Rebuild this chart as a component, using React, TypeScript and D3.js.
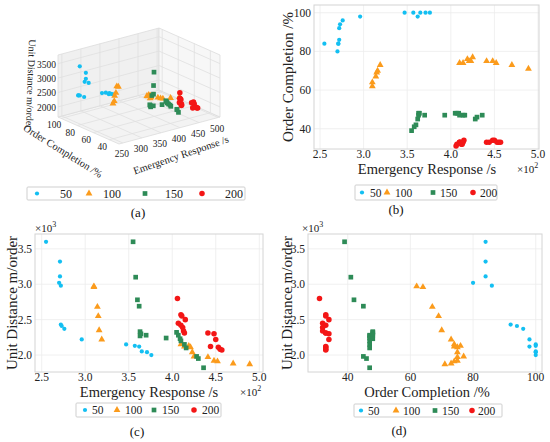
import React from 'react';
import * as d3 from 'd3';

// groups (number of vehicles / orders)
const groupNames = ['50', '100', '150', '200'];
const groupColors = ['#13bff2', '#fb9b1c', '#2e8b57', '#f31616'];

// Emergency Response (s), Order Completion (%), Unit Distance (m/order)
const resp50 = [255, 271, 271, 270, 272, 272, 273, 276, 296, 347, 357, 362, 365, 371, 376];
const comp50 = [84, 84, 84, 80, 86, 92, 94, 96, 98, 100, 100, 98, 100, 100, 100];
const dist50 = [3600, 3320, 3110, 3020, 2980, 2430, 2410, 2370, 2220, 2150, 2130, 2120, 2050, 2040, 2000];

const resp100 = [310, 310, 314, 315, 316, 319, 410, 414, 419, 421, 423, 425, 441, 448, 452, 470, 489];
const comp100 = [62, 64, 67, 69, 70, 73, 74, 74, 76, 75, 75, 77, 75, 75, 74, 73, 71];
const dist100 = [2970, 2960, 2680, 2550, 2350, 2220, 2150, 2120, 2130, 2110, 2040, 1980, 1970, 1920, 1910, 1880, 1870];

const resp150 = [355, 358, 360, 362, 363, 363, 364, 370, 393, 405, 407, 409, 410, 414, 416, 428, 430, 436];
const comp150 = [39, 41, 42, 45, 47, 48, 48, 47, 47, 48, 48, 48, 47, 47, 47, 45, 46, 47];
const dist150 = [3600, 3100, 2780, 2690, 2270, 2330, 2300, 2280, 2240, 2320, 2280, 2230, 2200, 2150, 2100, 1980, 1950, 1820];

const resp200 = [406, 410, 411, 415, 407, 410, 412, 413, 414, 441, 444, 448, 450, 453, 455, 457];
const comp200 = [31, 33, 33, 34, 32, 33, 32, 32, 33, 33, 33, 34, 34, 33, 33, 33];
const dist200 = [2800, 2570, 2550, 2500, 2450, 2420, 2390, 2340, 2310, 2310, 2120, 2300, 2220, 2110, 2080, 2070];

const respTicks = [2.5, 3.0, 3.5, 4.0, 4.5, 5.0];
const compTicks = [40, 60, 80, 100];
const distTicks = [2.0, 2.5, 3.0, 3.5];
const resp3dTicks = [250, 300, 350, 400, 450, 500];
const comp3dTicks = [40, 60, 80, 100];
const dist3dTicks = [2000, 2500, 3000, 3500];

const allResp = [resp50, resp100, resp150, resp200];
const allComp = [comp50, comp100, comp150, comp200];
const allDist = [dist50, dist100, dist150, dist200];

const series = groupNames.map((name, i) => ({
  name,
  color: groupColors[i],
  idx: i,
  pts: allResp[i].map((r, j) => ({ resp: r, comp: allComp[i][j], dist: allDist[i][j] })),
}));

const FONT = "'Liberation Serif', 'DejaVu Serif', serif";
const symbolTypes = [d3.symbolCircle, d3.symbolTriangle, d3.symbolSquare, d3.symbolCircle];
const symbolSizes = [14, 20, 22, 24];
const markerPath = (i: number, scale = 1) =>
  d3.symbol().type(symbolTypes[i]).size(symbolSizes[i] * scale)() as string;

const Exp = ({ x, y, p }: { x: number; y: number; p: string }) => (
  <text x={x} y={y} fontSize={11} fill="#222">
    ×10<tspan dy={-5} fontSize={8}>{p}</tspan>
  </text>
);

type Box = { l: number; t: number; r: number; b: number };

function Scatter2D(props: {
  box: Box;
  xDomain: number[];
  yDomain: number[];
  xTicks: number[];
  yTicks: number[];
  fmtX: (v: number) => string;
  fmtY: (v: number) => string;
  getX: (p: any) => number;
  getY: (p: any) => number;
  xLabel: string;
  yLabel: string;
  xLabelPos: number[];
  yLabelPos: number[];
}) {
  const { box, xDomain, yDomain, xTicks, yTicks, fmtX, fmtY, getX, getY } = props;
  const x = d3.scaleLinear().domain(xDomain).range([box.l, box.r]);
  const y = d3.scaleLinear().domain(yDomain).range([box.b, box.t]);
  return (
    <g>
      <rect x={box.l} y={box.t} width={box.r - box.l} height={box.b - box.t} fill="#fff" />
      {xTicks.map(t => (
        <line key={'gx' + t} x1={x(t)} x2={x(t)} y1={box.t} y2={box.b} stroke="#ececec" strokeWidth={0.8} />
      ))}
      {yTicks.map(t => (
        <line key={'gy' + t} x1={box.l} x2={box.r} y1={y(t)} y2={y(t)} stroke="#ececec" strokeWidth={0.8} />
      ))}
      <rect x={box.l} y={box.t} width={box.r - box.l} height={box.b - box.t} fill="none" stroke="#d4d4d4" strokeWidth={1} />
      {xTicks.map(t => (
        <text key={'tx' + t} x={x(t)} y={box.b + 9} fontSize={11.5} textAnchor="middle" fill="#222">{fmtX(t)}</text>
      ))}
      {yTicks.map(t => (
        <text key={'ty' + t} x={box.l - 3} y={y(t)} dy="0.35em" fontSize={11.5} textAnchor="end" fill="#222">{fmtY(t)}</text>
      ))}
      {series.map(s => (
        <g key={s.name} fill={s.color}>
          {s.pts.map((p, j) => (
            <path key={j} d={markerPath(s.idx)} transform={`translate(${x(getX(p))},${y(getY(p))})`} />
          ))}
        </g>
      ))}
      <text x={props.xLabelPos[0]} y={props.xLabelPos[1]} fontSize={14.5} textAnchor="middle" fill="#222">{props.xLabel}</text>
      <text
        transform={`translate(${props.yLabelPos[0]},${props.yLabelPos[1]}) rotate(-90)`}
        fontSize={15}
        textAnchor="middle"
        dominantBaseline="central"
        fill="#222"
      >
        {props.yLabel}
      </text>
    </g>
  );
}

function Legend({ x, y, w, h, markerXs, textXs, fontSize }: {
  x: number; y: number; w: number; h: number; markerXs: number[]; textXs: number[]; fontSize: number;
}) {
  const cy = y + h / 2;
  return (
    <g>
      <rect x={x} y={y} width={w} height={h} fill="#fff" stroke="#cfcfcf" strokeWidth={1} rx={1} />
      {series.map((s, i) => (
        <g key={s.name}>
          <path d={markerPath(i)} fill={s.color} transform={`translate(${markerXs[i]},${cy})`} />
          <text x={textXs[i]} y={cy} dy="0.35em" fontSize={fontSize} fill="#222">{s.name}</text>
        </g>
      ))}
    </g>
  );
}

function Scatter3D() {
  // projection of the unit cube onto the page
  const F = [119, 144];
  const ex = [101, -27];
  const ey = [-61, -27];
  const ez = [0, -62];
  const sx = d3.scaleLinear().domain([240, 505]).range([0, 1]);
  const sy = d3.scaleLinear().domain([28, 104]).range([0, 1]);
  const sz = d3.scaleLinear().domain([1650, 3800]).range([0, 1]);
  const [x0, x1] = sx.domain();
  const [y0, y1] = sy.domain();
  const [z0, z1] = sz.domain();
  const proj = (a: number, b: number, c: number): [number, number] => [
    F[0] + sx(a) * ex[0] + sy(b) * ey[0] + sz(c) * ez[0],
    F[1] + sx(a) * ex[1] + sy(b) * ey[1] + sz(c) * ez[1],
  ];
  const poly = (pts: [number, number][]) => pts.map(p => p.join(',')).join(' ');
  const seg = (a: [number, number], b: [number, number], k: string) => (
    <line key={k} x1={a[0]} y1={a[1]} x2={b[0]} y2={b[1]} stroke="#e0e0e0" strokeWidth={0.8} />
  );

  const floor = [proj(x0, y0, z0), proj(x1, y0, z0), proj(x1, y1, z0), proj(x0, y1, z0)];
  const backWall = [proj(x0, y1, z0), proj(x1, y1, z0), proj(x1, y1, z1), proj(x0, y1, z1)];
  const rightWall = [proj(x1, y0, z0), proj(x1, y1, z0), proj(x1, y1, z1), proj(x1, y0, z1)];

  const pts = series
    .flatMap(s => s.pts.map(p => ({ ...p, idx: s.idx, color: s.color })))
    .sort((a, b) => (sx(b.resp) + sy(b.comp)) - (sx(a.resp) + sy(a.comp)));

  return (
    <g>
      <polygon points={poly(floor)} fill="#f3f3f3" stroke="#dcdcdc" strokeWidth={0.8} />
      <polygon points={poly(backWall)} fill="#f0f0f0" stroke="#dcdcdc" strokeWidth={0.8} />
      <polygon points={poly(rightWall)} fill="#f7f7f7" stroke="#dcdcdc" strokeWidth={0.8} />
      {resp3dTicks.map(t => seg(proj(t, y1, z0), proj(t, y1, z1), 'bw' + t))}
      {dist3dTicks.map(t => seg(proj(x0, y1, t), proj(x1, y1, t), 'bz' + t))}
      {comp3dTicks.map(t => seg(proj(x1, t, z0), proj(x1, t, z1), 'rw' + t))}
      {dist3dTicks.map(t => seg(proj(x1, y0, t), proj(x1, y1, t), 'rz' + t))}
      {resp3dTicks.map(t => seg(proj(t, y0, z0), proj(t, y1, z0), 'fx' + t))}
      {comp3dTicks.map(t => seg(proj(x0, t, z0), proj(x1, t, z0), 'fy' + t))}
      {pts.map((p, j) => {
        const [px, py] = proj(p.resp, p.comp, p.dist);
        return <path key={j} d={markerPath(p.idx)} fill={p.color} transform={`translate(${px},${py})`} />;
      })}
      {resp3dTicks.map(t => {
        const [px, py] = proj(t, y0, z0);
        return (
          <text key={'lx' + t} x={px - 1} y={py + 11} fontSize={9.5} textAnchor="middle" dominantBaseline="central" fill="#222">{t}</text>
        );
      })}
      {comp3dTicks.map(t => {
        const [px, py] = proj(x0, t, z0);
        return (
          <text key={'ly' + t} x={px - 7} y={py + 7} fontSize={9.5} textAnchor="middle" dominantBaseline="central" fill="#222">{t}</text>
        );
      })}
      {dist3dTicks.map(t => {
        const [px, py] = proj(x0, y1, t);
        return (
          <text key={'lz' + t} x={px - 2} y={py + 1} fontSize={9.5} textAnchor="end" dominantBaseline="central" fill="#222">{t}</text>
        );
      })}
      <text transform="translate(181,155) rotate(-19)" fontSize={10.5} textAnchor="middle" dominantBaseline="central" fill="#222">
        Emergency Response /s
      </text>
      <text transform="translate(63,151) rotate(32)" fontSize={10.5} textAnchor="middle" dominantBaseline="central" fill="#222">
        Order Completion /%
      </text>
      <text transform="translate(31,84) rotate(92)" fontSize={10} textAnchor="middle" dominantBaseline="central" fill="#222">
        Unit Distance m/order
      </text>
    </g>
  );
}

const fmt1 = d3.format('.1f');
const fmt0 = d3.format('d');

export default function App() {
  return (
    <svg
      width={550}
      height={442}
      style={{ position: 'absolute', left: 0, top: 0, background: '#fff', fontFamily: FONT }}
    >
      <rect width={550} height={442} fill="#fff" />

      {/* (a) 3D scatter */}
      <Scatter3D />
      <Legend x={27} y={187} w={218} h={13} markerXs={[37, 89, 145, 202]} textXs={[60, 103, 165, 225]} fontSize={12} />
      <text x={138} y={212} fontSize={13} textAnchor="middle" dominantBaseline="central" fill="#111">(a)</text>

      {/* (b) response vs completion */}
      <Scatter2D
        box={{ l: 314, t: 5, r: 539, b: 149 }}
        xDomain={[2.431, 5.011]}
        yDomain={[29.5, 104]}
        xTicks={respTicks}
        yTicks={compTicks}
        fmtX={fmt1}
        fmtY={fmt0}
        getX={p => p.resp / 100}
        getY={p => p.comp}
        xLabel="Emergency Response /s"
        yLabel="Order Completion /%"
        xLabelPos={[427, 174]}
        yLabelPos={[288, 77]}
      />
      <Exp x={517} y={173} p="2" />
      <Legend x={355} y={185} w={142} h={15} markerXs={[362, 387, 433, 473]} textXs={[370, 395, 440, 480]} fontSize={11.5} />
      <text x={396} y={209} fontSize={13} textAnchor="middle" dominantBaseline="central" fill="#111">(b)</text>

      {/* (c) response vs distance */}
      <Scatter2D
        box={{ l: 35, t: 234, r: 263, b: 372 }}
        xDomain={[2.423, 5.043]}
        yDomain={[1.76, 3.71]}
        xTicks={respTicks}
        yTicks={distTicks}
        fmtX={fmt1}
        fmtY={fmt1}
        getX={p => p.resp / 100}
        getY={p => p.dist / 1000}
        xLabel="Emergency Response /s"
        yLabel="Unit Distance m/order"
        xLabelPos={[149, 396.5]}
        yLabelPos={[12, 303]}
      />
      <Exp x={35} y={232} p="3" />
      <Exp x={240} y={396} p="2" />
      <Legend x={76} y={403} w={145} h={14} markerXs={[85, 117, 154, 194]} textXs={[92, 125, 162, 202]} fontSize={11.5} />
      <text x={137} y={431} fontSize={13} textAnchor="middle" dominantBaseline="central" fill="#111">(c)</text>

      {/* (d) completion vs distance */}
      <Scatter2D
        box={{ l: 308, t: 234, r: 542, b: 372 }}
        xDomain={[27.33, 102.0]}
        yDomain={[1.76, 3.71]}
        xTicks={compTicks}
        yTicks={distTicks}
        fmtX={fmt0}
        fmtY={fmt1}
        getX={p => p.comp}
        getY={p => p.dist / 1000}
        xLabel="Order Completion /%"
        yLabel="Unit Distance m/order"
        xLabelPos={[427, 396.5]}
        yLabelPos={[287, 303]}
      />
      <Exp x={302} y={232} p="3" />
      <Legend x={354} y={404} w={148} h={13} markerXs={[361, 396, 435, 472]} textXs={[368, 403, 442, 478]} fontSize={11.5} />
      <text x={399} y={430} fontSize={13} textAnchor="middle" dominantBaseline="central" fill="#111">(d)</text>
    </svg>
  );
}
